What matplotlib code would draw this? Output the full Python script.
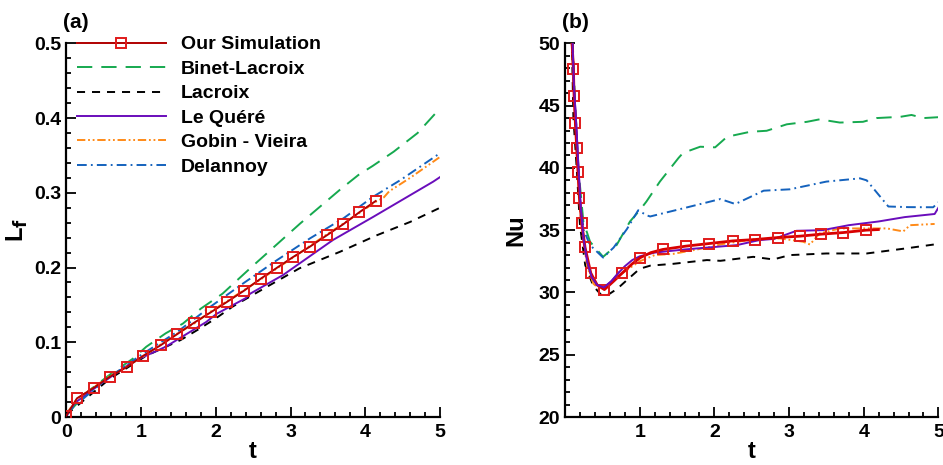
import matplotlib

matplotlib.use("Agg")

import matplotlib.pyplot as plt
from matplotlib.ticker import MultipleLocator

plt.rcParams["font.family"] = ["Liberation Sans", "DejaVu Sans"]
plt.rcParams["font.weight"] = "bold"
plt.rcParams["lines.scale_dashes"] = False

# ---- panel (a): front position L_f vs t ----
sim_t_a = [0.0, 0.143, 0.366, 0.584, 0.812, 1.03, 1.262, 1.485, 1.708, 1.931,
           2.15, 2.377, 2.6, 2.823, 3.033, 3.26, 3.483, 3.706, 3.921, 4.139]
sim_L_a = [0.002, 0.025, 0.039, 0.054, 0.067, 0.082, 0.096, 0.111, 0.126, 0.140,
           0.154, 0.169, 0.185, 0.200, 0.214, 0.228, 0.243, 0.258, 0.274, 0.289]

binet_t_a = [0.0, 0.3, 0.6, 0.89, 1.07, 1.33, 1.56, 1.8, 2.09, 2.46, 3.13, 3.66,
             3.91, 4.1, 4.38, 4.7, 5.0]
binet_L_a = [0.003, 0.035, 0.058, 0.078, 0.094, 0.112, 0.125, 0.145, 0.165, 0.199,
             0.259, 0.304, 0.324, 0.336, 0.355, 0.380, 0.413]

lacroix_t_a = [0.0, 0.58, 1.07, 1.53, 1.78, 2.0, 2.23, 2.68, 3.12, 3.66, 4.15, 4.6, 5.0]
lacroix_L_a = [0.003, 0.051, 0.082, 0.103, 0.118, 0.132, 0.148, 0.174, 0.199, 0.221,
               0.243, 0.261, 0.280]

quere_t_a = [0.0, 0.04, 0.13, 0.44, 0.89, 1.33, 1.87, 2.01, 2.40, 2.46, 2.9, 3.57,
             4.11, 4.91, 5.0]
quere_L_a = [0.0, 0.009, 0.020, 0.043, 0.074, 0.094, 0.127, 0.138, 0.159, 0.165,
             0.190, 0.237, 0.268, 0.315, 0.321]

gobin_t_a = [0.0, 0.14, 0.37, 0.58, 0.81, 1.03, 1.26, 1.49, 1.71, 1.93, 2.15, 2.38,
             2.6, 2.82, 3.03, 3.26, 3.48, 3.71, 3.92, 4.14, 4.25, 4.32, 4.6, 5.0]
gobin_L_a = [0.004, 0.024, 0.040, 0.055, 0.068, 0.081, 0.097, 0.112, 0.125, 0.141,
             0.155, 0.170, 0.184, 0.199, 0.213, 0.229, 0.244, 0.259, 0.273, 0.288,
             0.294, 0.302, 0.320, 0.348]

delannoy_t_a = [0.0, 0.5, 1.0, 1.5, 1.92, 2.37, 2.82, 3.26, 3.71, 4.11, 4.47, 5.0]
delannoy_L_a = [0.005, 0.048, 0.083, 0.115, 0.147, 0.179, 0.210, 0.239, 0.266,
                0.295, 0.317, 0.353]

# ---- panel (b): Nusselt number vs t ----
sim_t_b = [0.09, 0.112, 0.121, 0.138, 0.156, 0.174, 0.192, 0.223, 0.268, 0.344,
           0.43, 0.527, 0.65, 0.768, 0.9, 1.009, 1.15, 1.308, 1.62, 1.933, 2.246,
           2.545, 2.853, 3.147, 3.43, 3.728, 4.03, 4.196]
sim_Nu_b = [50.5, 47.94, 45.77, 43.63, 41.62, 39.64, 37.6, 35.59, 33.61, 31.57,
            30.6, 30.23, 30.9, 31.57, 32.3, 32.8, 33.2, 33.45, 33.72, 33.93, 34.14,
            34.25, 34.41, 34.52, 34.68, 34.81, 35.0, 35.05]
sim_marks_b = [1, 2, 3, 4, 5, 6, 7, 8, 9, 11, 13, 15, 17, 18, 19, 20, 21, 22, 23,
               24, 25, 26]

binet_t_b = [0.1, 0.134, 0.178, 0.245, 0.335, 0.51, 0.69, 0.87, 1.0, 1.09, 1.27,
             1.52, 1.58, 1.81, 2.01, 2.17, 2.48, 2.7, 2.97, 3.24, 3.41, 3.68, 3.99,
             4.17, 4.49, 4.64, 4.8, 5.0]
binet_Nu_b = [50.5, 45.3, 39.97, 35.7, 34.07, 32.86, 33.8, 35.7, 36.6, 37.3, 38.9,
              40.8, 41.2, 41.7, 41.65, 42.5, 42.9, 42.98, 43.5, 43.7, 43.9, 43.64,
              43.7, 44.0, 44.1, 44.25, 44.0, 44.07]

lacroix_t_b = [0.09, 0.112, 0.156, 0.2, 0.27, 0.38, 0.5, 0.56, 0.7, 0.83, 1.0, 1.14,
               1.45, 1.9, 2.08, 2.52, 2.79, 3.01, 3.5, 4.04, 4.57, 5.0]
lacroix_Nu_b = [50.5, 44.0, 40.0, 35.4, 32.2, 30.5, 29.7, 29.75, 30.3, 31.0, 31.9,
                32.15, 32.3, 32.6, 32.54, 32.86, 32.65, 33.0, 33.13, 33.13, 33.54, 33.9]

quere_t_b = [0.095, 0.12, 0.15, 0.18, 0.21, 0.25, 0.3, 0.36, 0.43, 0.52, 0.62, 0.72,
             0.8, 0.9, 1.0, 1.2, 1.6, 2.0, 2.3, 2.6, 2.8, 3.1, 3.45, 3.8, 4.2, 4.55,
             4.95, 5.0]
quere_Nu_b = [51.0, 46.5, 43.5, 40.0, 36.8, 34.2, 32.4, 31.2, 30.6, 30.4, 30.9, 31.6,
              32.1, 32.6, 32.9, 33.2, 33.45, 33.65, 33.8, 34.2, 34.3, 34.95, 35.0,
              35.4, 35.7, 36.05, 36.3, 36.8]

gobin_t_b = [0.085, 0.11, 0.14, 0.17, 0.2, 0.24, 0.3, 0.38, 0.46, 0.55, 0.65, 0.78,
             0.9, 1.0, 1.2, 1.45, 1.9, 2.12, 2.52, 2.88, 3.19, 3.28, 3.41, 3.68, 4.31,
             4.53, 4.62, 4.95]
gobin_Nu_b = [50.5, 47.5, 43.5, 39.8, 36.8, 34.3, 32.0, 30.7, 30.3, 30.4, 31.0, 31.6,
              32.1, 32.5, 33.0, 33.1, 33.6, 33.9, 34.26, 34.34, 34.07, 33.85, 34.74,
              35.14, 35.14, 34.9, 35.4, 35.5]

delannoy_t_b = [0.09, 0.12, 0.16, 0.2, 0.25, 0.335, 0.51, 0.65, 0.83, 0.98, 1.09, 1.14,
                1.58, 2.08, 2.28, 2.66, 3.01, 3.5, 3.95, 4.04, 4.33, 4.6, 4.93, 5.05]
delannoy_Nu_b = [50.5, 46.0, 41.0, 37.5, 35.0, 33.8, 32.8, 33.6, 35.1, 36.6, 36.2,
                 36.1, 36.75, 37.5, 37.1, 38.17, 38.28, 38.9, 39.16, 39.0, 36.9, 36.85,
                 36.84, 37.5]

labels = ["Our Simulation", "Binet-Lacroix", "Lacroix", "Le Quéré",
          "Gobin - Vieira", "Delannoy"]

SIM_LINE = "#b00000"
SIM_MARK = "#e01a1a"
GREEN = "#16a94f"
BLACK = "#000000"
PURPLE = "#6a0dbb"
ORANGE = "#ff8a17"
BLUE = "#1462bd"
LW = 1.4

styles = {
    "binet": dict(color=GREEN, lw=LW, dashes=(11, 6.5)),
    "lacroix": dict(color=BLACK, lw=LW, dashes=(5.8, 5)),
    "quere": dict(color=PURPLE, lw=LW, linestyle="-"),
    "gobin": dict(color=ORANGE, lw=LW, dashes=(6, 2, 1.3, 2, 1.3, 2)),
    "delannoy": dict(color=BLUE, lw=LW, dashes=(7, 3, 1.3, 3)),
}


def style_axes(ax):
    for side in ["top", "right"]:
        ax.spines[side].set_visible(False)
    for side in ["left", "bottom"]:
        ax.spines[side].set_linewidth(1.6)
    ax.tick_params(which="both", direction="in", width=1.3, labelsize=14)
    ax.tick_params(which="major", length=7)
    ax.tick_params(which="minor", length=3.5)
    ax.tick_params(axis="x", pad=5)
    ax.set_xlim(0, 5)
    ax.xaxis.set_major_locator(MultipleLocator(1))
    ax.xaxis.set_minor_locator(MultipleLocator(0.2))


fig = plt.figure(figsize=(9.43, 4.65), dpi=100)
ax1 = fig.add_axes([0.0703, 0.1032, 0.3963, 0.8036])
ax2 = fig.add_axes([0.5992, 0.1032, 0.3959, 0.8036])

# panel (a)
ax1.plot(binet_t_a, binet_L_a, label=labels[1], **styles["binet"])
ax1.plot(lacroix_t_a, lacroix_L_a, label=labels[2], **styles["lacroix"])
ax1.plot(quere_t_a, quere_L_a, label=labels[3], **styles["quere"])
ax1.plot(gobin_t_a, gobin_L_a, label=labels[4], **styles["gobin"])
ax1.plot(delannoy_t_a, delannoy_L_a, label=labels[5], **styles["delannoy"])
ax1.plot(sim_t_a, sim_L_a, color=SIM_LINE, lw=LW, marker="s", ms=7,
         mfc="none", mec=SIM_MARK, mew=1.4, label=labels[0], zorder=5)

style_axes(ax1)
ax1.set_ylim(0, 0.5)
ax1.yaxis.set_major_locator(MultipleLocator(0.1))
ax1.yaxis.set_minor_locator(MultipleLocator(0.02))
ax1.set_yticks([0, 0.1, 0.2, 0.3, 0.4, 0.5], ["0", "0.1", "0.2", "0.3", "0.4", "0.5"])
ax1.set_xlabel("t", fontsize=17, fontweight="bold", labelpad=-1)
ax1.set_ylabel(r"L$_\mathbf{f}$", fontsize=17, fontweight="bold", labelpad=3)
ax1.text(-0.01, 1.057, "(a)", transform=ax1.transAxes, fontsize=15,
         fontweight="bold", va="center", ha="left")

handles, labs = ax1.get_legend_handles_labels()
order = [5, 0, 1, 2, 3, 4]
ax1.legend([handles[i] for i in order], [labs[i] for i in order],
           loc="upper left", bbox_to_anchor=(0.028, 1.02), frameon=False,
           fontsize=14, handlelength=4.6, handletextpad=0.75,
           labelspacing=0.35, borderpad=0, borderaxespad=0)

# panel (b)
ax2.plot(binet_t_b, binet_Nu_b, **styles["binet"])
ax2.plot(delannoy_t_b, delannoy_Nu_b, **styles["delannoy"])
ax2.plot(lacroix_t_b, lacroix_Nu_b, **styles["lacroix"])
ax2.plot(gobin_t_b, gobin_Nu_b, **styles["gobin"])
ax2.plot(quere_t_b, quere_Nu_b, **styles["quere"])
ax2.plot(sim_t_b, sim_Nu_b, color="#d80000", lw=2.0, marker="s", ms=7,
         mfc="none", mec=SIM_MARK, mew=1.4, markevery=sim_marks_b, zorder=5)
ax2.plot(quere_t_b[:12], quere_Nu_b[:12], zorder=6, **styles["quere"])

style_axes(ax2)
ax2.set_ylim(20, 50)
ax2.yaxis.set_major_locator(MultipleLocator(5))
ax2.yaxis.set_minor_locator(MultipleLocator(1))
ax2.set_xticks([0, 1, 2, 3, 4, 5], ["", "1", "2", "3", "4", "5"])
ax2.set_xlabel("t", fontsize=17, fontweight="bold", labelpad=-1)
ax2.set_ylabel("Nu", fontsize=17, fontweight="bold", labelpad=8)
ax2.text(-0.008, 1.057, "(b)", transform=ax2.transAxes, fontsize=15,
         fontweight="bold", va="center", ha="left")

fig.savefig("out.png", dpi=100)
plt.close(fig)
